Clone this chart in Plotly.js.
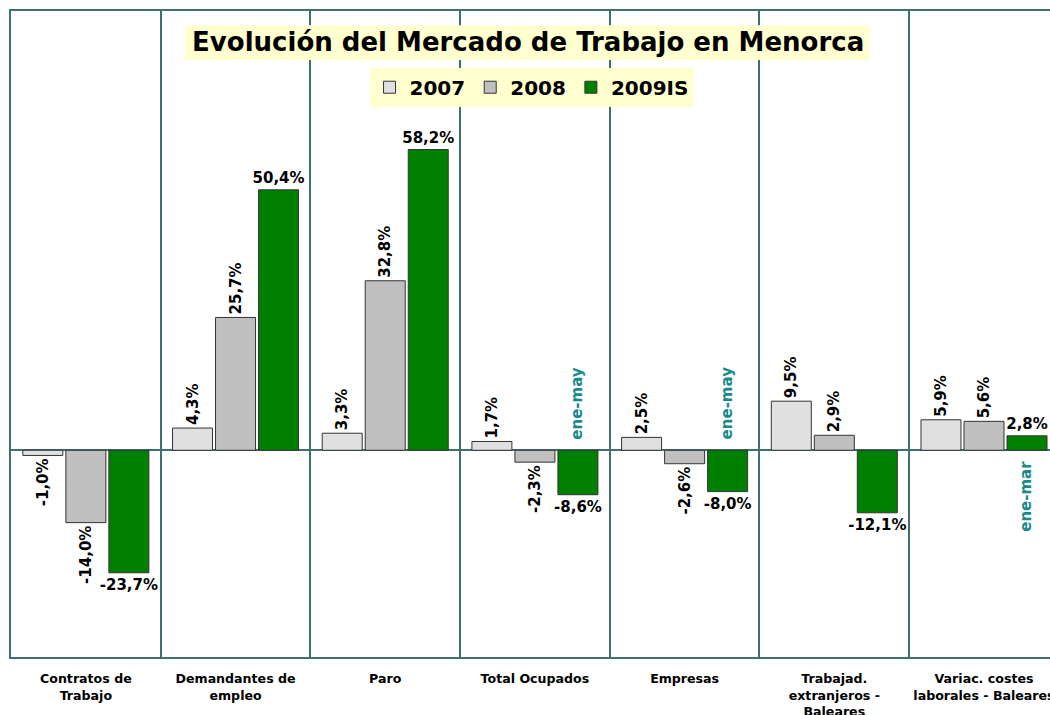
<!DOCTYPE html>
<html>
<head>
<meta charset="utf-8">
<script src="https://cdn.plot.ly/plotly-3.0.1.min.js"></script>
<style>
  html, body { margin: 0; padding: 0; background: #ffffff; }
  #chart { width: 1050px; height: 715px; }
</style>
</head>
<body>
<div id="chart"></div>
<script>
// ---- data ----
var categories = [
  "Contratos de<br>Trabajo",
  "Demandantes de<br>empleo",
  "Paro",
  "Total Ocupados",
  "Empresas",
  "Trabajad.<br>extranjeros -<br>Baleares",
  "Variac. costes<br>laborales - Baleares"
];
var seriesNames = ["2007", "2008", "2009IS"];
var values2007 = [-1.0, 4.3, 3.3, 1.7, 2.5, 9.5, 5.9];
var values2008 = [-14.0, 25.7, 32.8, -2.3, -2.6, 2.9, 5.6];
var values2009 = [-23.7, 50.4, 58.2, -8.6, -8.0, -12.1, 2.8];
var periodNotes = [
  {cat: "Total Ocupados", text: "ene-may", side: "up"},
  {cat: "Empresas", text: "ene-may", side: "up"},
  {cat: "Variac. costes<br>laborales - Baleares", text: "ene-mar", side: "down"}
];
var titleText = "Evolución del Mercado de Trabajo en Menorca";

// ---- styles ----
var FONT = "DejaVu Sans, Verdana, sans-serif";
var LINE = "#3f6f6f";
var colors = ["#e0e0e0", "#c0c0c0", "#008000"];
var allValues = [values2007, values2008, values2009];

var traces = allValues.map(function (vals, i) {
  return {
    type: "bar",
    name: seriesNames[i],
    x: categories,
    y: vals,
    marker: { color: colors[i], line: { color: "#333333", width: 1 } },
    texttemplate: "%{y:.1f}%",
    textposition: "outside",
    textangle: i < 2 ? -90 : 0,
    constraintext: "none",
    cliponaxis: false,
    textfont: { family: FONT, size: 15, color: "#000000", weight: "bold" },
    hoverinfo: "x+y+name"
  };
});

var annotations = periodNotes.map(function (n) {
  return {
    x: n.cat, y: 0, xref: "x", yref: "y",
    text: n.text, showarrow: false, textangle: -90,
    xanchor: "center",
    yanchor: n.side === "up" ? "bottom" : "top",
    xshift: 42,
    yshift: n.side === "up" ? 9 : -8,
    font: { family: FONT, size: 15, color: "#178b8b", weight: "bold" }
  };
});

var layout = {
  width: 1050, height: 715,
  margin: { l: 11, r: 0, t: 11, b: 58, pad: 0 },
  paper_bgcolor: "#ffffff",
  plot_bgcolor: "#ffffff",
  separators: ",.",
  barmode: "group",
  bargap: 0.138,
  bargroupgap: 0.07,
  showlegend: true,
  title: {
    text: titleText,
    font: { family: FONT, size: 26, color: "#000000", weight: "bold" },
    x: 0.503, xanchor: "center",
    y: 0.941, yanchor: "middle"
  },
  legend: {
    orientation: "h",
    x: 0.501, xanchor: "center",
    y: 0.882, yanchor: "middle",
    bgcolor: "#ffffd0",
    font: { family: FONT, size: 20, color: "#000000", weight: "bold" },
    itemclick: false, itemdoubleclick: false,
    tracegroupgap: 0
  },
  xaxis: {
    type: "category",
    range: [-0.5, 6.441],
    tickson: "boundaries",
    showgrid: true, gridcolor: LINE, gridwidth: 2,
    showline: true, linecolor: LINE, linewidth: 2, mirror: true,
    ticks: "",
    ticklabelstandoff: 9,
    tickfont: { family: FONT, size: 12.6, color: "#000000", weight: "bold" },
    fixedrange: true
  },
  yaxis: {
    range: [-40, 85],
    showgrid: false,
    zeroline: true, zerolinecolor: LINE, zerolinewidth: 2,
    showline: true, linecolor: LINE, linewidth: 2, mirror: false,
    showticklabels: false, ticks: "",
    fixedrange: true
  },
  shapes: [
    { type: "rect", xref: "paper", yref: "paper", layer: "above",
      x0: 0.1675, x1: 0.8268, y0: 0.924, y1: 0.978,
      fillcolor: "#ffffd0", line: { width: 0 } }
  ],
  annotations: annotations
};

Plotly.newPlot("chart", traces, layout, { displayModeBar: false, responsive: false });
</script>
</body>
</html>
